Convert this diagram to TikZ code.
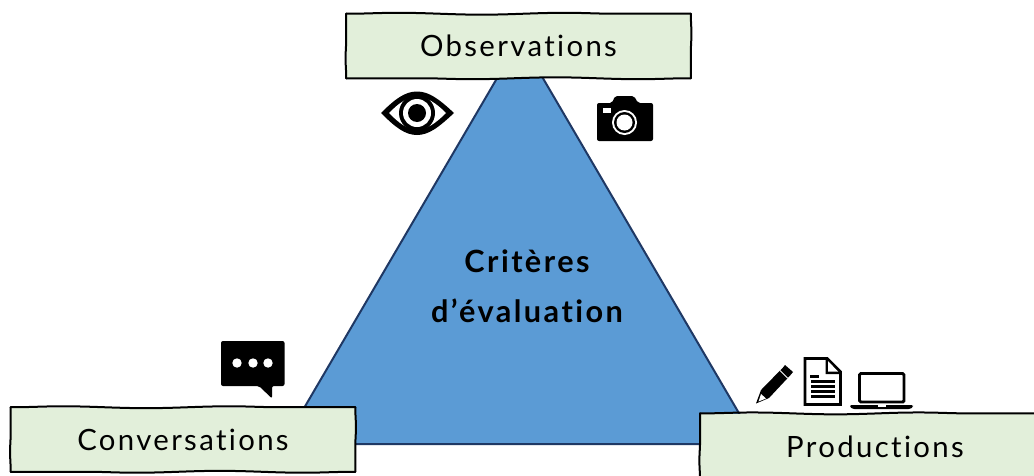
\documentclass[tikz,border=0pt]{standalone}
\usepackage{fontspec}
\setmainfont{Lato}
\newfontfamily\mainfam[LetterSpace=8,Ligatures=NoCommon]{Lato}
\usepackage{xcolor}
\usetikzlibrary{positioning,calc,decorations.pathmorphing}
\definecolor{sommet}{RGB}{226,239,218}
\definecolor{triangle}{RGB}{91,155,213}
\definecolor{contour}{RGB}{31,56,100}

\begin{document}
\begin{tikzpicture}[
    x=0.75pt, y=-0.75pt,
    pole/.style={fill=sommet, minimum width=258pt, minimum height=48pt,
        inner sep=0pt, font=\mainfam\fontsize{22}{26}\selectfont},
    wobble/.style={draw=black, line width=1.5pt, line join=round, line cap=round,
        decoration={snake, segment length=125pt, amplitude=0.7pt}},
    wobbleside/.style={wobble, decoration={snake, segment length=48pt, amplitude=0.5pt}},
    centre/.style={align=center, inner sep=0pt, font=\mainfam\fontsize{23}{37.5}\selectfont\bfseries},
    icon/.style={fill=black, draw=none},
    trou/.style={fill=white, draw=none},
    trait/.style={draw=black, line width=2.2pt, fill=white}
]
    \clip (0,0) rectangle (1034,475);
    \fill[white] (0,0) rectangle (1034,475);

    % Triangle
    \coordinate (apex) at (520,39);
    \coordinate (left) at (283,444);
    \coordinate (right) at (757,444);
    \draw[contour, line width=1.5pt, fill=triangle] (apex) -- (left) -- (right) -- cycle;
    \node[centre] (criteres) at (527,286) {Critères\\d’évaluation};

    % Poles
    \node[pole] (observations) at (518.5,46) {Observations};
    \node[pole] (conversations) at (183,439.5) {Conversations};
    \node[pole, minimum width=262pt, minimum height=50pt] (productions) at (875,447) {Productions};
    \foreach \nom in {observations,conversations,productions} {
        \draw[wobble, decorate] (\nom.north west) -- (\nom.north east);
        \draw[wobble, decorate] (\nom.south east) -- (\nom.south west);
        \draw[wobbleside, decorate] (\nom.north east) -- (\nom.south east);
        \draw[wobbleside, decorate] (\nom.south west) -- (\nom.north west);
    }

    % Eye
    \fill[icon] (381,113) .. controls (395,99) and (405,91.5) .. (417,91.5) .. controls (429,91.5) and (439,99) .. (454,113)
        .. controls (439,127) and (429,135) .. (417,135) .. controls (405,135) and (395,127) .. (381,113) -- cycle;
    \fill[trou] (389,113) .. controls (399,103) and (407,97) .. (417,97) .. controls (427,97) and (436,103) .. (446,113)
        .. controls (436,123) and (427,129.5) .. (417,129.5) .. controls (407,129.5) and (399,123) .. (389,113) -- cycle;
    \fill[icon] (417,113) circle (18);
    \fill[trou] (417,113) circle (14);
    \fill[icon] (417,113) circle (9);

    % Camera
    \fill[icon, rounded corners=1.5pt] (597,103) -- (612,103) -- (615,96) -- (634,96) -- (638,103) -- (653,103) -- (653,141) -- (597,141) -- cycle;
    \fill[trou] (603,108) rectangle (611,113);
    \fill[trou] (624.5,122.5) circle (12.5);
    \fill[icon] (624.5,122.5) circle (10.5);
    \fill[trou] (624.5,122.5) circle (8);

    % Speech bubble
    \fill[icon, rounded corners=1.5pt] (221,341) -- (284.5,341) -- (284.5,386) -- (272,386) -- (272,398.5) -- (259,386) -- (221,386) -- cycle;
    \foreach \dotx in {237,253,268}
        \fill[trou] (\dotx,363) circle (4.7);

    % Pencil
    \fill[icon] (756,403.5) -- (761,390) -- (783,367.5) -- (785,365) -- (793,372) -- (790.5,375) -- (769,398) -- cycle;
    \fill[trou] (758.5,401.5) -- (761,394) -- (766,398.5) -- cycle;
    \draw[white, line width=0.7pt] (780,370.5) -- (787.5,378);

    % Document
    \draw[trait] (805,358.5) -- (827,358.5) -- (840.5,372) -- (840.5,404.5) -- (805,404.5) -- cycle;
    \fill[icon] (825.5,358) -- (827,358) -- (841,372) -- (841,374) -- (825.5,374) -- cycle;
    \fill[trou] (828,361) -- (838,371.5) -- (828,371.5) -- cycle;
    \fill[icon] (810,375) rectangle (819,377.5);
    \foreach \ligne in {380,385,390,395}
        \fill[icon] (811,\ligne) rectangle (835,\ligne+2.5);

    % Laptop
    \draw[trait, rounded corners=1pt] (859.5,373.5) rectangle (904,402);
    \fill[icon, rounded corners=1pt] (850,405) -- (913,405) -- (913,407) -- (910,409) -- (853,409) -- (850,407) -- cycle;
    \fill[trou] (878,405) rectangle (886,406.5);
\end{tikzpicture}
\end{document}
